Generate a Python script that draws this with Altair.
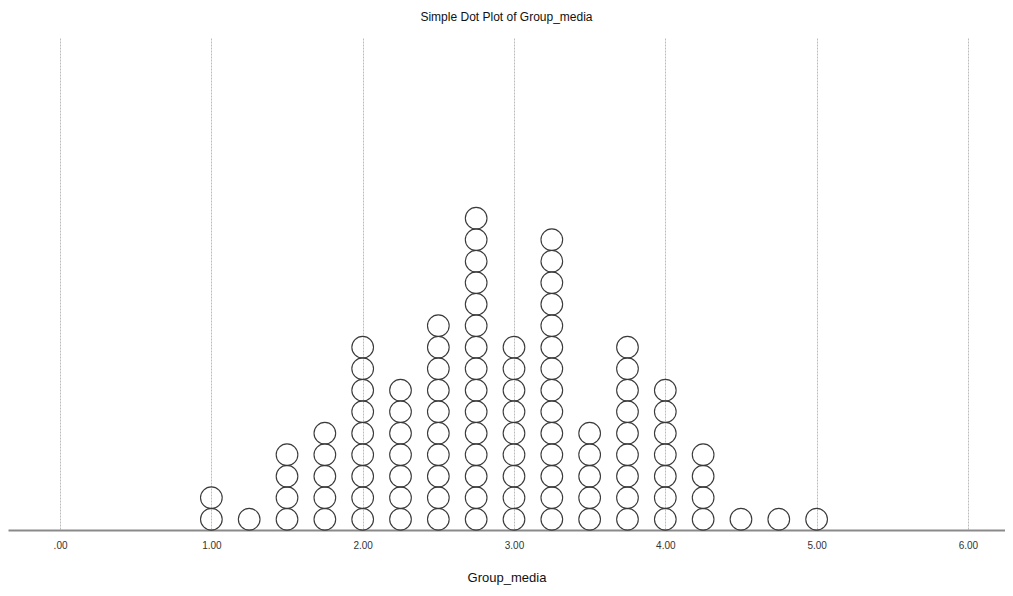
import altair as alt
import pandas as pd

# Bin values (Group_media) and number of cases stacked at each value
values = [1.00, 1.25, 1.50, 1.75, 2.00, 2.25, 2.50, 2.75, 3.00, 3.25, 3.50, 3.75, 4.00, 4.25, 4.50, 4.75, 5.00]
counts = [2, 1, 4, 5, 9, 7, 10, 15, 9, 14, 5, 9, 7, 4, 1, 1, 1]
tick_values = [0, 1, 2, 3, 4, 5, 6]

rows = []
for v, c in zip(values, counts):
    for k in range(1, c + 1):
        rows.append({"Group_media": v, "stack": k - 0.5})
df = pd.DataFrame(rows)

FONT = "Liberation Sans"

dots = alt.Chart(df).mark_point(
    shape="circle", filled=False, size=470, stroke="#3a3a3a", strokeWidth=1.1, opacity=1
).encode(
    x=alt.X(
        "Group_media:Q",
        scale=alt.Scale(domain=[-0.344, 6.245], nice=False, zero=False),
        axis=alt.Axis(
            values=tick_values,
            labelExpr="datum.value == 0 ? '.00' : format(datum.value, '.2f')",
            title="Group_media",
            grid=True,
            gridColor="#bcbcbc",
            gridDash=[2, 1],
            gridWidth=1,
            ticks=False,
            domainColor="#8a8a8a",
            domainWidth=2,
            labelFont=FONT,
            labelFontSize=10,
            labelColor="#333333",
            labelPadding=10,
            titleFont=FONT,
            titleFontSize=13,
            titleFontWeight="normal",
            titleColor="#111111",
            titlePadding=21,
        ),
    ),
    y=alt.Y(
        "stack:Q",
        scale=alt.Scale(domain=[0, 22.88], nice=False, zero=True),
        axis=None,
    ),
)

chart = dots.properties(
    width=997,
    height=492,
    padding={"left": 0, "top": 3, "right": 0, "bottom": 8},
    title=alt.TitleParams(
        "Simple Dot Plot of Group_media",
        font=FONT,
        fontSize=12,
        fontWeight="normal",
        color="#111111",
        anchor="middle",
        offset=14,
    ),
).configure(background="white").configure_view(stroke=None, strokeWidth=0)

chart.save("out.html", embed_options={"renderer": "svg", "actions": False})
